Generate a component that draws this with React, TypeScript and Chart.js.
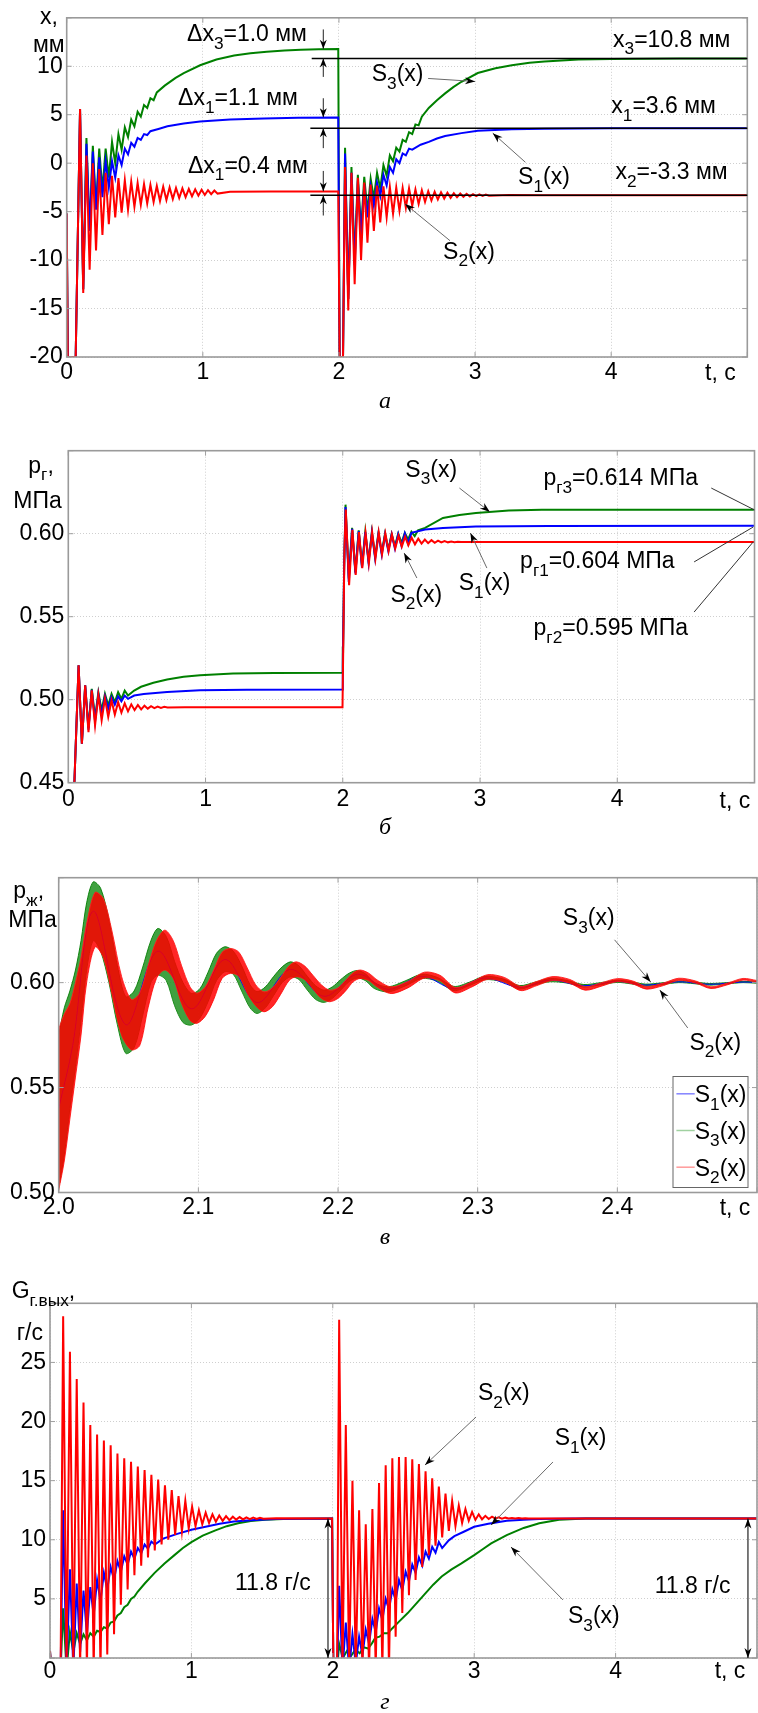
import React, { useEffect, useRef } from 'react';
import { Chart, registerables } from 'chart.js';

Chart.register(...registerables);

type P = [number, number];
type Part = [string, boolean];

const SANS = '"Liberation Sans", Arial, Helvetica, sans-serif';
const CAPFONT = 'italic 24px "Liberation Serif", "Times New Roman", serif';
const FS = 23;
const GREEN = 'rgb(0,128,0)';
const BLUE = 'rgb(0,0,255)';
const RED = 'rgb(255,0,0)';

// time helper: values sampled every dt from t0 (peaks/troughs alternate)
const osc = (t0: number, dt: number, vals: number[]): P[] => vals.map((v, i) => [t0 + i * dt, v] as P);
const zip = (ts: number[], vs: number[]): P[] => ts.map((t, i) => [t, vs[i]] as P);

// ================= Panel а : x, мм =================
const aRedStart: P[] = [[0, -5.2], [0.008, -20], [0.066, -20]];
const aRedOsc1 = [5.6, -13.4, 0.8, -11.0, 0.0, -9.0, -0.6, -7.4, -1.0, -6.3, -1.3, -5.6, -1.55, -5.1, -1.75, -4.8, -1.9, -4.5, -2.05, -4.3, -2.15, -4.15, -2.25, -4.0, -2.35, -3.9, -2.42, -3.8, -2.5, -3.7, -2.55, -3.6, -2.6, -3.5, -2.65, -3.42, -2.7, -3.35, -2.74, -3.28, -2.78, -3.2, -2.82, -3.14];
const aRedMid: P[] = [[1.2, -2.95], [1.5, -2.92], [1.995, -2.92], [2.005, -20], [2.03, -20]];
const aRedOsc2 = [-0.4, -15.2, -1.0, -12.5, -1.5, -10.0, -2.0, -8.2, -2.2, -7.0, -2.3, -6.1, -2.4, -5.6, -2.45, -5.2, -2.5, -4.9, -2.55, -4.6, -2.6, -4.4, -2.7, -4.2, -2.8, -4.0, -2.9, -3.85, -2.95, -3.75, -3.0, -3.65, -3.05, -3.58, -3.1, -3.52, -3.13, -3.47, -3.16, -3.43, -3.19, -3.4, -3.21, -3.37, -3.23, -3.35];
const aRedEnd: P[] = [[3.25, -3.29], [3.5, -3.3], [5, -3.3]];

const aGreenStart: P[] = [[0, -5.2], [0.008, -20], [0.066, -20]];
const aGreenOsc1 = [5.6, -13.0, 2.6, -7.0, 1.8, -4.5, 1.5, -2.8, 1.5, -1.5, 2.2, 0.0, 3.0, 1.4, 3.7, 2.7, 4.5, 3.8, 5.3, 4.8, 6.0, 5.7, 6.7, 6.5, 7.3];
const aGreenMid: P[] = [[0.72, 8.0], [0.8, 8.8], [0.86, 9.3], [0.98, 10.1], [1.1, 10.7], [1.23, 11.1], [1.35, 11.35], [1.47, 11.5], [1.6, 11.62], [1.72, 11.7], [1.85, 11.75], [1.995, 11.78], [2.005, -20], [2.03, -20]];
const aGreenOsc2 = [1.6, -14.0, -0.4, -10.0, -1.2, -7.0, -1.4, -5.0, -1.6, -3.6, -1.0, -2.6, -0.2, -1.3, 0.8, 0.2, 1.6, 1.2, 2.4, 2.2, 3.2, 3.0, 4.0, 3.9, 4.8];
const aGreenEnd: P[] = [[2.66, 5.7], [2.72, 6.5], [2.78, 7.2], [2.84, 7.85], [2.9, 8.4], [3.02, 9.3], [3.15, 9.8], [3.27, 10.1], [3.4, 10.35], [3.51, 10.5], [3.76, 10.7], [4.0, 10.76], [4.5, 10.8], [5, 10.8]];

const aBlueStart: P[] = [[0, -5.2], [0.008, -20], [0.066, -20]];
const aBlueOsc1 = [5.6, -13.0, 2.0, -7.0, 1.2, -4.8, 0.6, -3.5, 0.2, -2.5, 0.2, -1.5, 0.8, -0.2, 1.5, 0.9, 2.1, 1.7, 2.6, 2.4, 3.0, 2.9, 3.3];
const aBlueMid: P[] = [[0.68, 3.55], [0.74, 3.8], [0.86, 4.1], [0.98, 4.3], [1.2, 4.5], [1.45, 4.62], [1.7, 4.68], [1.995, 4.72], [2.005, -20], [2.03, -20]];
const aBlueOsc2 = [1.0, -14.0, -1.0, -10.5, -1.8, -7.5, -2.2, -5.6, -2.4, -4.4, -2.0, -3.4, -1.2, -2.3, -0.4, -1.0, 0.4, 0.0, 1.0, 0.8, 1.5, 1.4];
const aBlueEnd: P[] = [[2.6, 1.9], [2.66, 2.2], [2.72, 2.55], [2.78, 2.8], [2.9, 3.1], [3.02, 3.35], [3.27, 3.5], [3.51, 3.55], [4.0, 3.6], [5, 3.6]];

const aRed = [...aRedStart, ...osc(0.098, 0.0235, aRedOsc1), ...aRedMid, ...osc(2.045, 0.0235, aRedOsc2), ...aRedEnd];
const aGreen = [...aGreenStart, ...osc(0.098, 0.0235, aGreenOsc1), ...aGreenMid, ...osc(2.045, 0.0235, aGreenOsc2), ...aGreenEnd];
const aBlue = [...aBlueStart, ...osc(0.098, 0.0235, aBlueOsc1), ...aBlueMid, ...osc(2.045, 0.0235, aBlueOsc2), ...aBlueEnd];

const aLevels: P[] = [[10.8, 1.80], [3.6, 1.79], [-3.3, 1.79]]; // value, start time
const aDeltaT = 1.885;
const aDeltaArrows: P[] = [[13.8, 11.8], [8.9, 10.8], [6.7, 4.75], [1.55, 3.6], [-0.8, -2.9], [-5.4, -3.3]];
const aLabels: [number, number, Part[]][] = [
  [0.884, 12.61, [['Δx', false], ['3', true], ['=1.0 мм', false]]],
  [0.818, 5.97, [['Δx', false], ['1', true], ['=1.1 мм', false]]],
  [0.891, -0.98, [['Δx', false], ['1', true], ['=0.4 мм', false]]],
  [4.014, 12.02, [['x', false], ['3', true], ['=10.8 мм', false]]],
  [4.001, 5.18, [['x', false], ['1', true], ['=3.6 мм', false]]],
  [4.031, -1.66, [['x', false], ['2', true], ['=-3.3 мм', false]]],
  [2.241, 8.43, [['S', false], ['3', true], ['(x)', false]]],
  [3.316, -2.17, [['S', false], ['1', true], ['(x)', false]]],
  [2.765, -9.87, [['S', false], ['2', true], ['(x)', false]]],
];
const aArrows: [P, P][] = [
  [[2.655, 8.74], [3.0, 8.43]],
  [[3.37, 0.09], [3.13, 3.1]],
  [[2.816, -8.0], [2.486, -4.2]],
];

// ================= Panel б : pг, МПа =================
const bStart: P[] = [[0, 0.44], [0.04, 0.44]];
const bRedOsc1 = [0.5208, 0.4735, 0.5087, 0.4805, 0.5057, 0.4845, 0.5027, 0.4876, 0.5007, 0.4896, 0.4995, 0.491, 0.4985, 0.4922, 0.4978, 0.493, 0.4972, 0.4937, 0.4968, 0.4942, 0.4964, 0.4946, 0.4961, 0.4949, 0.4959, 0.4951, 0.4957, 0.4953];
const bRedMid: P[] = [[0.85, 0.4955], [1.998, 0.4955], [2.012, 0.59]];
const bRedOsc2 = [0.6145, 0.569, 0.6024, 0.5752, 0.601, 0.5792, 0.6005, 0.5822, 0.601, 0.585, 0.6008, 0.5875, 0.6002, 0.5895, 0.5995, 0.591, 0.5988, 0.5922, 0.5982, 0.593, 0.5976, 0.5936, 0.597, 0.594, 0.5965, 0.5943, 0.5961, 0.5945, 0.5958, 0.5947, 0.5955, 0.5948, 0.5953, 0.5949, 0.5951, 0.595];
const bRedEnd: P[] = [[3.0, 0.595], [5, 0.595]];

const bGreenOsc1 = [0.5208, 0.4735, 0.5087, 0.483, 0.5065, 0.489, 0.5045, 0.4935, 0.5035, 0.4965, 0.5035, 0.4985, 0.5045, 0.5005, 0.5055, 0.5025];
const bGreenMid: P[] = [[0.48, 0.5055], [0.53, 0.5078], [0.62, 0.5102], [0.72, 0.5122], [0.84, 0.5138], [0.96, 0.5148], [1.2, 0.5158], [1.5, 0.5161], [1.998, 0.5162], [2.0, 0.532], [2.002, 0.528], [2.01, 0.58]];
const bGreenOsc2 = [0.6175, 0.573, 0.6035, 0.577, 0.602, 0.5805, 0.6012, 0.5835, 0.601, 0.586, 0.6005, 0.5885, 0.6, 0.5905, 0.5998, 0.5925, 0.6, 0.5945, 0.6005, 0.5965, 0.6012, 0.5985, 0.602];
const bGreenEnd: P[] = [[2.6, 0.6035], [2.73, 0.6095], [2.85, 0.6112], [2.97, 0.6125], [3.21, 0.614], [3.45, 0.6145], [4, 0.6145], [5, 0.6145]];

const bBlueOsc1 = [0.5208, 0.4735, 0.5087, 0.482, 0.506, 0.487, 0.5035, 0.491, 0.502, 0.4945, 0.5015, 0.497, 0.502, 0.499, 0.5025, 0.5005];
const bBlueMid: P[] = [[0.48, 0.5025], [0.55, 0.5035], [0.72, 0.5047], [0.96, 0.5057], [1.3, 0.506], [1.998, 0.5061], [2.0, 0.52], [2.01, 0.58]];
const bBlueOsc2 = [0.616, 0.571, 0.603, 0.576, 0.6015, 0.5795, 0.601, 0.5825, 0.6005, 0.585, 0.6, 0.5875, 0.5995, 0.5895, 0.5995, 0.591, 0.5998, 0.5925, 0.6002, 0.594, 0.6005];
const bBlueEnd: P[] = [[2.6, 0.6025], [2.73, 0.6034], [2.97, 0.6044], [3.5, 0.6047], [5, 0.6048]];

const bRed = [...bStart, ...osc(0.075, 0.024, bRedOsc1), ...bRedMid, ...osc(2.022, 0.024, bRedOsc2), ...bRedEnd];
const bGreen = [...bStart, ...osc(0.075, 0.024, bGreenOsc1), ...bGreenMid, ...osc(2.02, 0.024, bGreenOsc2), ...bGreenEnd];
const bBlue = [...bStart, ...osc(0.075, 0.024, bBlueOsc1), ...bBlueMid, ...osc(2.02, 0.024, bBlueOsc2), ...bBlueEnd];

const bLabels: [number, number, Part[]][] = [
  [2.456, 0.6343, [['S', false], ['3', true], ['(x)', false]]],
  [3.462, 0.6293, [['p', false], ['г3', true], ['=0.614 МПа', false]]],
  [2.347, 0.559, [['S', false], ['2', true], ['(x)', false]]],
  [2.845, 0.5661, [['S', false], ['1', true], ['(x)', false]]],
  [3.292, 0.5792, [['p', false], ['г1', true], ['=0.604 МПа', false]]],
  [3.39, 0.539, [['p', false], ['г2', true], ['=0.595 МПа', false]]],
];
const bArrows: [P, P][] = [
  [[2.85, 0.6275], [3.072, 0.6131]],
  [[2.54, 0.5733], [2.447, 0.5884]],
  [[3.05, 0.5793], [2.93, 0.6004]],
];
const bLeaders: [P, P][] = [
  [[4.685, 0.6275], [5.0, 0.6143]],
  [[4.56, 0.583], [4.99, 0.604]],
  [[4.56, 0.5528], [4.99, 0.595]],
];

// ================= Panel в : pж, МПа (2.0 .. 2.5 s) =================
const vRedT = [2.000, 2.004, 2.008, 2.012, 2.016, 2.020, 2.026, 2.032, 2.038, 2.045, 2.052, 2.058, 2.064, 2.070, 2.076, 2.082, 2.088, 2.094, 2.099, 2.105, 2.111, 2.117, 2.123, 2.129, 2.135, 2.141, 2.147, 2.153, 2.159, 2.165, 2.170, 2.176, 2.182, 2.188, 2.194, 2.200, 2.206, 2.211, 2.216, 2.222, 2.228, 2.238, 2.250, 2.262, 2.273, 2.284, 2.296, 2.307, 2.319, 2.331, 2.342, 2.354, 2.366, 2.377, 2.389, 2.400, 2.411, 2.421, 2.433, 2.444, 2.456, 2.467, 2.479, 2.490, 2.500];
const vRedHi = [0.578, 0.585, 0.590, 0.600, 0.612, 0.628, 0.643, 0.640, 0.625, 0.603, 0.592, 0.595, 0.608, 0.620, 0.625, 0.620, 0.608, 0.598, 0.595, 0.598, 0.606, 0.6145, 0.6163, 0.6145, 0.607, 0.599, 0.5956, 0.5975, 0.6025, 0.608, 0.6099, 0.608, 0.6035, 0.599, 0.5964, 0.5975, 0.6015, 0.6048, 0.606, 0.6045, 0.6013, 0.598, 0.6005, 0.605, 0.6035, 0.5977, 0.6004, 0.6038, 0.6025, 0.5982, 0.6005, 0.6029, 0.6015, 0.598, 0.6, 0.6019, 0.6008, 0.5981, 0.5998, 0.6021, 0.6008, 0.598, 0.5998, 0.602, 0.601];
const vRedLo = [0.501, 0.515, 0.535, 0.555, 0.575, 0.600, 0.617, 0.612, 0.595, 0.575, 0.568, 0.570, 0.588, 0.602, 0.606, 0.602, 0.590, 0.582, 0.5806, 0.584, 0.592, 0.602, 0.6044, 0.603, 0.595, 0.589, 0.5861, 0.5885, 0.5945, 0.601, 0.6028, 0.6015, 0.597, 0.5925, 0.5909, 0.5925, 0.5965, 0.6005, 0.602, 0.601, 0.5979, 0.5948, 0.5975, 0.6022, 0.6009, 0.5951, 0.598, 0.6016, 0.6003, 0.5962, 0.5985, 0.6011, 0.5997, 0.5964, 0.5984, 0.6005, 0.5994, 0.5969, 0.5986, 0.6011, 0.5998, 0.5972, 0.599, 0.6012, 0.6002];

const vGreenT = [2.000, 2.004, 2.008, 2.012, 2.016, 2.020, 2.0247, 2.030, 2.036, 2.042, 2.048, 2.054, 2.060, 2.066, 2.071, 2.077, 2.083, 2.089, 2.095, 2.101, 2.107, 2.113, 2.119, 2.125, 2.131, 2.137, 2.142, 2.148, 2.154, 2.160, 2.166, 2.172, 2.178, 2.184, 2.190, 2.196, 2.202, 2.208, 2.214, 2.220, 2.226, 2.236, 2.248, 2.260, 2.271, 2.283, 2.294, 2.305, 2.318, 2.330, 2.341, 2.352, 2.364, 2.376, 2.388, 2.400, 2.410, 2.420, 2.432, 2.444, 2.455, 2.466, 2.478, 2.490, 2.500];
const vGreenHi = [0.575, 0.588, 0.596, 0.606, 0.620, 0.638, 0.648, 0.645, 0.630, 0.608, 0.5933, 0.596, 0.607, 0.620, 0.6258, 0.622, 0.610, 0.600, 0.5949, 0.597, 0.605, 0.614, 0.6171, 0.615, 0.608, 0.599, 0.5957, 0.598, 0.603, 0.6075, 0.6099, 0.608, 0.603, 0.5985, 0.5964, 0.598, 0.6015, 0.6045, 0.6058, 0.604, 0.600, 0.598, 0.6008, 0.604, 0.6025, 0.5982, 0.6002, 0.603, 0.6018, 0.5986, 0.6002, 0.602, 0.601, 0.5991, 0.6, 0.6011, 0.6004, 0.5993, 0.5999, 0.6008, 0.6003, 0.5996, 0.6, 0.6006, 0.6003];
const vGreenLo = [0.502, 0.518, 0.540, 0.560, 0.582, 0.606, 0.620, 0.615, 0.600, 0.580, 0.5663, 0.569, 0.584, 0.600, 0.6036, 0.601, 0.589, 0.581, 0.5798, 0.583, 0.591, 0.601, 0.6052, 0.604, 0.596, 0.588, 0.5853, 0.588, 0.594, 0.600, 0.6028, 0.6015, 0.5965, 0.592, 0.5906, 0.5925, 0.5965, 0.6005, 0.6022, 0.6008, 0.5972, 0.5956, 0.5984, 0.602, 0.6007, 0.5962, 0.5986, 0.6014, 0.6004, 0.597, 0.599, 0.6004, 0.5998, 0.5979, 0.599, 0.6001, 0.5994, 0.5983, 0.5991, 0.6, 0.5995, 0.5988, 0.5994, 0.6, 0.5997];

const vBlue: P[] = [[2.0, 0.54], [2.01, 0.57], [2.0247, 0.634], [2.048, 0.58], [2.071, 0.615], [2.095, 0.5875], [2.119, 0.611], [2.142, 0.5905], [2.166, 0.6063], [2.19, 0.5935], [2.214, 0.604], [2.236, 0.5968], [2.26, 0.603], [2.283, 0.5972], [2.305, 0.6022], [2.33, 0.5978], [2.352, 0.6012], [2.376, 0.5985], [2.4, 0.6006], [2.42, 0.5988], [2.444, 0.6004], [2.466, 0.5992], [2.49, 0.6003], [2.5, 0.6]];

const vLabels: [number, number, Part[]][] = [
  [2.361, 0.6275, [['S', false], ['3', true], ['(x)', false]]],
  [2.4516, 0.568, [['S', false], ['2', true], ['(x)', false]]],
];
const vArrows: [P, P][] = [
  [[2.398, 0.6204], [2.4239, 0.6003]],
  [[2.4504, 0.5784], [2.4304, 0.5965]],
];
const vLegend: [string, string][] = [['1', 'rgba(90,90,255,0.75)'], ['3', 'rgba(120,190,120,0.7)'], ['2', 'rgba(255,120,120,0.75)']];

// ================= Panel г : Gг.вых, г/с =================
const gStart: P[] = [[0, 0.6], [0.006, 0.6], [0.008, -1], [0.075, -1]];
const gRedOsc1 = [28.9, -1, 25.9, -1, 23.6, -1, 21.6, -1, 19.7, -1, 18.9, -1, 18.4, 0.3, 18.0, 2.0, 17.3, 4.5, 16.9, 5.8, 16.6, 7.0, 16.2, 7.8, 15.9, 8.5, 15.5, 9.1, 15.1, 9.6, 14.6, 10.0, 14.2, 10.4, 13.7, 10.7, 13.3, 10.95, 12.8, 11.15, 12.5, 11.3, 12.3, 11.42, 12.15, 11.52, 12.05, 11.6, 12.0, 11.65, 11.95, 11.7, 11.92, 11.72, 11.9, 11.75, 11.88, 11.76, 11.86, 11.78];
const gRedMid: P[] = [[1.6, 11.82], [1.995, 11.8], [2.004, -1], [2.03, -1]];
const gRedOsc2 = [28.6, -1, 19.7, -1, 15.0, -1, 12.5, -1, 11.3, -1, 12.6, -1, 14.8, -1, 16.3, -1, 16.9, 1.8, 17.0, 3.8, 17.0, 5.3, 16.8, 6.6, 16.4, 7.7, 15.8, 8.7, 15.2, 9.5, 14.5, 10.2, 13.9, 10.75, 13.3, 11.15, 12.9, 11.42, 12.6, 11.6, 12.35, 11.68, 12.15, 11.73, 12.02, 11.76, 11.95, 11.78, 11.9, 11.79, 11.87, 11.8, 11.85, 11.8, 11.83, 11.8, 11.82, 11.8];
const gRedEnd: P[] = [[3.5, 11.8], [5, 11.8]];

const gBlueOsc1 = [12.5, -1, 7.5, -1, 6.3, 0.5, 5.7, 2.0, 6.0, 3.6, 6.6, 4.8, 7.2, 5.8, 7.7, 6.6, 8.2, 7.3, 8.6, 7.9, 9.0, 8.4, 9.3, 8.85, 9.6, 9.25, 9.85, 9.6];
const gBlueMid: P[] = [[0.8, 10.1], [0.9, 10.5], [1.0, 10.85], [1.1, 11.1], [1.2, 11.35], [1.3, 11.55], [1.45, 11.68], [1.6, 11.75], [1.8, 11.78], [1.995, 11.8], [2.004, -1], [2.03, -1]];
const gBlueOsc2 = [6.1, -1, 3.0, -1, 2.0, -0.5, 1.8, 0.2, 2.4, 1.2, 3.3, 2.2, 4.2, 3.2, 5.0, 4.1, 5.8, 4.9, 6.6, 5.7, 7.3, 6.5, 7.9, 7.2, 8.5, 7.8, 9.0, 8.4, 9.4, 8.9, 9.8, 9.3];
const gBlueEnd: P[] = [[2.82, 9.95], [2.86, 10.3], [2.93, 10.7], [3.0, 11.1], [3.1, 11.35], [3.23, 11.6], [3.35, 11.7], [3.46, 11.75], [3.7, 11.8], [5, 11.8]];

const gGreen: P[] = [[0, 0.6], [0.006, 0.6], [0.008, -1], [0.075, -1], [0.093, 4.2], [0.117, -1], [0.141, 2.2], [0.165, 0.5], [0.189, 2.1], [0.213, 1.2], [0.237, 2.0], [0.261, 1.5], [0.285, 2.1], [0.309, 1.8], [0.333, 2.3], [0.357, 2.2], [0.381, 2.6], [0.405, 2.5], [0.429, 3.0], [0.453, 3.1], [0.477, 3.6], [0.501, 3.8], [0.525, 4.3], [0.549, 4.5], [0.573, 5.0], [0.597, 5.2], [0.62, 5.6], [0.67, 6.3], [0.74, 7.2], [0.81, 8.0], [0.88, 8.7], [0.94, 9.3], [1.0, 9.8], [1.08, 10.35], [1.17, 10.8], [1.25, 11.15], [1.33, 11.4], [1.42, 11.58], [1.52, 11.7], [1.65, 11.76], [1.8, 11.78], [1.995, 11.8], [2.004, -1], [2.03, -1], [2.045, 1.2], [2.07, 0], [2.1, 0.6], [2.13, 0.2], [2.16, 0.7], [2.19, 0.4], [2.22, 0.9], [2.25, 0.8], [2.28, 1.3], [2.3, 1.7], [2.33, 1.8], [2.36, 2.1], [2.39, 2.1], [2.42, 2.5], [2.47, 3.1], [2.53, 3.8], [2.59, 4.6], [2.65, 5.4], [2.71, 6.2], [2.77, 6.9], [2.84, 7.5], [2.91, 8.0], [3.0, 8.7], [3.06, 9.2], [3.12, 9.7], [3.23, 10.4], [3.35, 11.0], [3.46, 11.4], [3.6, 11.7], [3.79, 11.8], [5, 11.8]];

const gRed = [...gStart, ...osc(0.093, 0.024, gRedOsc1), ...gRedMid, ...osc(2.045, 0.0235, gRedOsc2), ...gRedEnd];
const gBlue = [...gStart, ...osc(0.093, 0.024, gBlueOsc1), ...gBlueMid, ...osc(2.045, 0.0235, gBlueOsc2), ...gBlueEnd];

const gLabels: [number, number, Part[]][] = [
  [3.027, 21.82, [['S', false], ['2', true], ['(x)', false]]],
  [3.569, 18.01, [['S', false], ['1', true], ['(x)', false]]],
  [3.663, 2.93, [['S', false], ['3', true], ['(x)', false]]],
  [4.277, 5.47, [['11.8 г/с', false]]],
  [1.308, 5.75, [['11.8 г/с', false]]],
];
const gArrows: [P, P][] = [
  [[3.013, 20.38], [2.652, 16.32]],
  [[3.557, 16.58], [3.119, 11.25]],
  [[3.628, 4.91], [3.26, 9.39]],
];
const gSteady = 11.8;
const gDoubleT = [1.966, 4.936];

// ================= drawing helpers =================
function rich(ctx: CanvasRenderingContext2D, x: number, y: number, parts: Part[], size = FS, color = '#000') {
  ctx.save();
  ctx.fillStyle = color;
  ctx.textBaseline = 'alphabetic';
  ctx.textAlign = 'left';
  let cx = x;
  for (const [s, sub] of parts) {
    const fs = sub ? size * 0.75 : size;
    ctx.font = `${fs}px ${SANS}`;
    ctx.fillText(s, cx, sub ? y + size * 0.33 : y);
    cx += ctx.measureText(s).width;
  }
  ctx.restore();
}
function seg(ctx: CanvasRenderingContext2D, x1: number, y1: number, x2: number, y2: number, color: string, lw: number) {
  ctx.save();
  ctx.strokeStyle = color;
  ctx.lineWidth = lw;
  ctx.beginPath();
  ctx.moveTo(x1, y1);
  ctx.lineTo(x2, y2);
  ctx.stroke();
  ctx.restore();
}
function head(ctx: CanvasRenderingContext2D, x1: number, y1: number, x2: number, y2: number, len = 10, hw = 3.5) {
  const a = Math.atan2(y2 - y1, x2 - x1);
  ctx.save();
  ctx.fillStyle = '#000';
  ctx.beginPath();
  ctx.moveTo(x2, y2);
  ctx.lineTo(x2 - len * Math.cos(a) + hw * Math.sin(a), y2 - len * Math.sin(a) - hw * Math.cos(a));
  ctx.lineTo(x2 - len * Math.cos(a) * 0.7, y2 - len * Math.sin(a) * 0.7);
  ctx.lineTo(x2 - len * Math.cos(a) - hw * Math.sin(a), y2 - len * Math.sin(a) + hw * Math.cos(a));
  ctx.closePath();
  ctx.fill();
  ctx.restore();
}
function arrow(ctx: CanvasRenderingContext2D, x1: number, y1: number, x2: number, y2: number, color = '#6a6a6a') {
  seg(ctx, x1, y1, x2, y2, color, 1);
  head(ctx, x1, y1, x2, y2);
}
function caption(ctx: CanvasRenderingContext2D, ca: any, ch: string) {
  ctx.save();
  ctx.font = CAPFONT;
  ctx.fillStyle = '#000';
  ctx.textAlign = 'center';
  ctx.textBaseline = 'alphabetic';
  ctx.fillText(ch, 385, ca.bottom + 51);
  ctx.restore();
}

const framePlugin = {
  id: 'frame',
  afterDatasetsDraw(chart: any) {
    const { ctx, chartArea: ca } = chart;
    const xs = chart.scales.x;
    const ys = chart.scales.y;
    ctx.save();
    ctx.strokeStyle = '#a0a0a0';
    ctx.lineWidth = 1;
    xs.ticks.forEach((t: any) => {
      const x = xs.getPixelForValue(t.value);
      ctx.beginPath(); ctx.moveTo(x, ca.bottom); ctx.lineTo(x, ca.bottom - 5); ctx.stroke();
      ctx.beginPath(); ctx.moveTo(x, ca.top); ctx.lineTo(x, ca.top + 5); ctx.stroke();
    });
    ys.ticks.forEach((t: any) => {
      const y = ys.getPixelForValue(t.value);
      ctx.beginPath(); ctx.moveTo(ca.left, y); ctx.lineTo(ca.left + 5, y); ctx.stroke();
      ctx.beginPath(); ctx.moveTo(ca.right, y); ctx.lineTo(ca.right - 5, y); ctx.stroke();
    });
    ctx.strokeStyle = '#9a9a9a';
    ctx.lineWidth = 1.6;
    ctx.strokeRect(ca.left, ca.top, ca.right - ca.left, ca.bottom - ca.top);
    ctx.restore();
  },
};

const ln = (pts: P[], color: string, order: number, extra: any = {}) => ({
  data: pts.map(([x, y]) => ({ x, y })),
  borderColor: color,
  backgroundColor: color,
  borderWidth: 2,
  pointRadius: 0,
  fill: false,
  tension: 0,
  order,
  clip: 0,
  ...extra,
});

interface Spec {
  top: number; h: number; padTop: number; padRight: number; yw: number; xh: number; xpad: number;
  xmin: number; xmax: number; xstep: number; xfmt: (v: number) => string;
  ymin: number; ymax: number; ystep: number; yfmt: (v: number) => string;
  datasets: any[];
  draw: (chart: any) => void;
}

function tools(chart: any) {
  const xs = chart.scales.x;
  const ys = chart.scales.y;
  return {
    ctx: chart.ctx as CanvasRenderingContext2D,
    ca: chart.chartArea,
    X: (t: number) => xs.getPixelForValue(t),
    Y: (v: number) => ys.getPixelForValue(v),
  };
}

const intFmt = (max: number) => (v: number) => (Math.abs(v - max) < 1e-6 ? '' : String(Math.round(v)));

const specs: Spec[] = [
  {
    top: 0, h: 420, padTop: 16, padRight: 10.7, yw: 66.7, xh: 63, xpad: 2,
    xmin: 0, xmax: 5, xstep: 1, xfmt: intFmt(5),
    ymin: -20, ymax: 15, ystep: 5, yfmt: intFmt(15),
    datasets: [ln(aGreen, GREEN, 2), ln(aBlue, BLUE, 1), ln(aRed, RED, 0)],
    draw(chart) {
      const { ctx, ca, X, Y } = tools(chart);
      for (const [v, t0] of aLevels) seg(ctx, X(t0), Y(v), ca.right, Y(v), '#000', 1.5);
      for (const [v0, v1] of aDeltaArrows) {
        seg(ctx, X(aDeltaT), Y(v0), X(aDeltaT), Y(v1), '#222', 1);
        head(ctx, X(aDeltaT), Y(v0), X(aDeltaT), Y(v1), 9, 3.5);
      }
      for (const [t, v, parts] of aLabels) rich(ctx, X(t), Y(v), parts);
      for (const [a, b] of aArrows) arrow(ctx, X(a[0]), Y(a[1]), X(b[0]), Y(b[1]));
      rich(ctx, ca.left - 26.7, ca.top + 6, [['x,', false]]);
      rich(ctx, ca.left - 33.7, ca.top + 34, [['мм', false]]);
      rich(ctx, ca.right - 42.3, ca.bottom + 23, [['t, c', false]]);
      caption(ctx, ca, 'а');
    },
  },
  {
    top: 420, h: 420, padTop: 30.7, padRight: 1.7, yw: 68.3, xh: 57.3, xpad: 3.5,
    xmin: 0, xmax: 5, xstep: 1, xfmt: intFmt(5),
    ymin: 0.45, ymax: 0.65, ystep: 0.05, yfmt: (v) => (v > 0.64 ? '' : v.toFixed(2)),
    datasets: [ln(bGreen, GREEN, 2), ln(bBlue, BLUE, 1), ln(bRed, RED, 0)],
    draw(chart) {
      const { ctx, ca, X, Y } = tools(chart);
      for (const [a, b] of bLeaders) seg(ctx, X(a[0]), Y(a[1]), X(b[0]), Y(b[1]), '#333', 1);
      for (const [t, v, parts] of bLabels) rich(ctx, X(t), Y(v), parts);
      for (const [a, b] of bArrows) arrow(ctx, X(a[0]), Y(a[1]), X(b[0]), Y(b[1]));
      rich(ctx, ca.left - 40, ca.top + 22, [['p', false], ['г', true], [',', false]]);
      rich(ctx, ca.left - 55, ca.top + 57.6, [['МПа', false]]);
      rich(ctx, ca.right - 35, ca.bottom + 25.6, [['t, c', false]]);
      caption(ctx, ca, 'б');
    },
  },
  {
    top: 840, h: 410, padTop: 37.7, padRight: 0.7, yw: 58.7, xh: 57.5, xpad: 1,
    xmin: 2.0, xmax: 2.5, xstep: 0.1, xfmt: (v) => (v > 2.45 ? '' : v.toFixed(1)),
    ymin: 0.5, ymax: 0.65, ystep: 0.05, yfmt: (v) => (v > 0.64 ? '' : v.toFixed(2)),
    datasets: [
      ln(zip(vGreenT, vGreenHi), 'rgba(0,125,0,0.9)', 3, { borderWidth: 1, fill: '+1', backgroundColor: 'rgba(30,145,30,0.85)', tension: 0.3 }),
      ln(zip(vGreenT, vGreenLo), 'rgba(0,125,0,0.9)', 3, { borderWidth: 1, tension: 0.3 }),
      ln(vBlue, BLUE, 2, { borderWidth: 1, tension: 0.35 }),
      ln(zip(vRedT, vRedHi), 'rgba(255,30,30,0.9)', 1, { borderWidth: 1, fill: '+1', backgroundColor: 'rgba(255,0,0,0.85)', tension: 0.3 }),
      ln(zip(vRedT, vRedLo), 'rgba(255,30,30,0.9)', 1, { borderWidth: 1, tension: 0.3 }),
    ],
    draw(chart) {
      const { ctx, ca, X, Y } = tools(chart);
      for (const [t, v, parts] of vLabels) rich(ctx, X(t), Y(v), parts);
      for (const [a, b] of vArrows) arrow(ctx, X(a[0]), Y(a[1]), X(b[0]), Y(b[1]));
      const bw = 75, bh = 111;
      const bx = ca.right - 9 - bw;
      const by = ca.bottom - 5 - bh;
      ctx.save();
      ctx.fillStyle = '#fff';
      ctx.fillRect(bx, by, bw, bh);
      ctx.strokeStyle = '#666';
      ctx.lineWidth = 1;
      ctx.strokeRect(bx, by, bw, bh);
      ctx.restore();
      vLegend.forEach(([n, col], i) => {
        const y = by + 17.3 + i * 36.7;
        seg(ctx, bx + 3.4, y, bx + 21.7, y, col, 1.5);
        rich(ctx, bx + 21.7, y + 8.4, [['S', false], [n, true], ['(x)', false]]);
      });
      rich(ctx, ca.left - 45.4, ca.top + 20.6, [['p', false], ['ж', true], [',', false]]);
      rich(ctx, ca.left - 50.4, ca.top + 49.6, [['МПа', false]]);
      rich(ctx, ca.right - 37.3, ca.bottom + 22.5, [['t, c', false]]);
      caption(ctx, ca, 'в');
    },
  },
  {
    top: 1250, h: 463, padTop: 53.3, padRight: 1, yw: 50, xh: 55, xpad: 0,
    xmin: 0, xmax: 5, xstep: 1, xfmt: intFmt(5),
    ymin: 0, ymax: 30, ystep: 5, yfmt: (v) => (v <= 0 || v >= 30 ? '' : String(Math.round(v))),
    datasets: [ln(gGreen, GREEN, 2), ln(gBlue, BLUE, 1), ln(gRed, RED, 0)],
    draw(chart) {
      const { ctx, ca, X, Y } = tools(chart);
      for (const [t, v, parts] of gLabels) rich(ctx, X(t), Y(v), parts);
      for (const [a, b] of gArrows) arrow(ctx, X(a[0]), Y(a[1]), X(b[0]), Y(b[1]));
      for (const t of gDoubleT) {
        seg(ctx, X(t), Y(gSteady), X(t), Y(0), '#222', 1.2);
        head(ctx, X(t), Y(0), X(t), Y(gSteady), 10, 3.5);
        head(ctx, X(t), Y(gSteady), X(t), Y(0), 10, 3.5);
      }
      rich(ctx, ca.left - 38.3, ca.top - 5, [['G', false], ['г.вых', true], [',', false]]);
      rich(ctx, ca.left - 33.3, ca.top + 36.7, [['г/с', false]]);
      rich(ctx, ca.right - 42.3, ca.bottom + 20.3, [['t, c', false]]);
      caption(ctx, ca, 'г');
    },
  },
];

function makeConfig(sp: Spec): any {
  const tickFont = { family: SANS, size: FS };
  const grid = { color: '#cfcfcf', lineWidth: 1, drawTicks: false };
  const border = { display: false, dash: [1, 2] };
  return {
    type: 'line',
    data: { datasets: sp.datasets },
    options: {
      animation: false,
      responsive: false,
      maintainAspectRatio: false,
      events: [],
      layout: { autoPadding: false, padding: { top: sp.padTop, right: sp.padRight, left: 0, bottom: 0 } },
      plugins: { legend: { display: false }, tooltip: { enabled: false } },
      scales: {
        x: {
          type: 'linear', min: sp.xmin, max: sp.xmax,
          afterFit: (s: any) => { s.height = sp.xh; },
          ticks: { stepSize: sp.xstep, autoSkip: false, maxRotation: 0, padding: sp.xpad, color: '#000', font: tickFont, callback: (v: any) => sp.xfmt(Number(v)) },
          grid, border,
        },
        y: {
          type: 'linear', min: sp.ymin, max: sp.ymax,
          afterFit: (s: any) => { s.width = sp.yw; },
          ticks: { stepSize: sp.ystep, autoSkip: false, padding: 4, color: '#000', font: tickFont, callback: (v: any) => sp.yfmt(Number(v)) },
          grid, border,
        },
      },
    },
    plugins: [framePlugin, { id: 'annot', afterDraw: (c: any) => sp.draw(c) }],
  };
}

function Panel({ sp }: { sp: Spec }) {
  const ref = useRef<HTMLCanvasElement>(null);
  useEffect(() => {
    const chart = new Chart(ref.current as HTMLCanvasElement, makeConfig(sp));
    return () => chart.destroy();
  }, []);
  return (
    <canvas
      ref={ref}
      width={758}
      height={sp.h}
      style={{ position: 'absolute', left: 0, top: sp.top, width: 758, height: sp.h }}
    />
  );
}

export default function App() {
  return (
    <div style={{ position: 'absolute', left: 0, top: 0, width: 758, height: 1713, background: '#fff' }}>
      {specs.map((sp, i) => (
        <Panel key={i} sp={sp} />
      ))}
    </div>
  );
}
